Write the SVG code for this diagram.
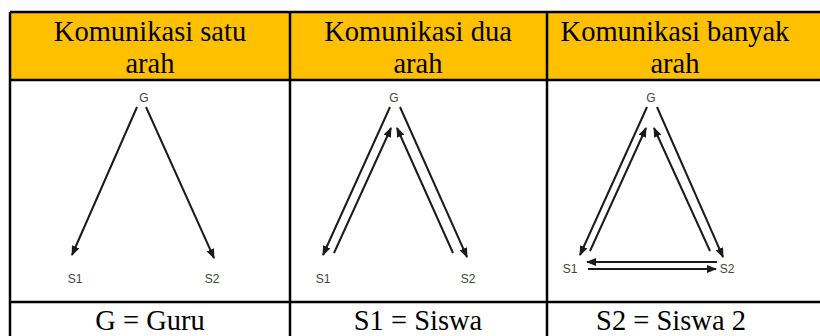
<svg xmlns="http://www.w3.org/2000/svg" width="820" height="336" viewBox="0 0 820 336">
<style>
.hd{font-family:"Liberation Serif","Times New Roman",Times,serif;font-size:28.5px;fill:#000;text-anchor:middle}
.lb{font-family:"Liberation Sans",Arial,sans-serif;font-size:12px;fill:#444;text-anchor:middle}
.ln{stroke:#1a1a1a;stroke-width:2;fill:none;marker-end:url(#ah)}
.grid{stroke:#000;stroke-width:2.5;fill:none}
</style>
<defs>
<marker id="ah" markerUnits="userSpaceOnUse" markerWidth="10" markerHeight="8" refX="9" refY="4" orient="auto">
<path d="M0,0 L10,4 L0,8 Z" fill="#1a1a1a"/>
</marker>
</defs>
<rect x="0" y="0" width="820" height="336" fill="#fff"/>
<g id="table">
<rect x="10" y="12" width="812" height="68" fill="#FFC000"/>
<path class="grid" d="M10,12 H822 M10,80 H822 M10,302 H822 M10,12 V336 M290,12 V336 M547,12 V336"/>
</g>
<g id="header1"><text class="hd" x="150" y="41">Komunikasi satu</text><text class="hd" x="150" y="73">arah</text></g>
<g id="header2"><text class="hd" x="418" y="41">Komunikasi dua</text><text class="hd" x="418" y="73">arah</text></g>
<g id="header3"><text class="hd" x="675" y="41">Komunikasi banyak</text><text class="hd" x="675" y="73">arah</text></g>
<g id="nodes1">
<text class="lb" x="144" y="102">G</text>
<text class="lb" x="75" y="283">S1</text>
<text class="lb" x="212" y="283">S2</text>
</g>
<g id="nodes2">
<text class="lb" x="394" y="102">G</text>
<text class="lb" x="323" y="283">S1</text>
<text class="lb" x="468" y="283">S2</text>
</g>
<g id="nodes3">
<text class="lb" x="651" y="102">G</text>
<text class="lb" x="570" y="273">S1</text>
<text class="lb" x="727" y="273">S2</text>
</g>
<g id="connectors">
<line class="ln" x1="137" y1="107" x2="72" y2="255"/>
<line class="ln" x1="146" y1="107" x2="214" y2="258"/>
<line class="ln" x1="390" y1="107" x2="323" y2="255"/>
<line class="ln" x1="334" y1="253" x2="391" y2="128"/>
<line class="ln" x1="453" y1="253" x2="397" y2="128"/>
<line class="ln" x1="400" y1="107" x2="467" y2="257"/>
<line class="ln" x1="647" y1="107" x2="580" y2="255"/>
<line class="ln" x1="590" y1="251" x2="646" y2="128"/>
<line class="ln" x1="710" y1="251" x2="654" y2="128"/>
<line class="ln" x1="657" y1="107" x2="723" y2="257"/>
<line class="ln" x1="717" y1="262" x2="587" y2="262"/>
<line class="ln" x1="588" y1="269" x2="716" y2="269"/>
</g>
<g id="legend">
<text class="hd" x="150" y="330">G = Guru</text>
<text class="hd" x="418" y="330">S1 = Siswa</text>
<text class="hd" x="671" y="330">S2 = Siswa 2</text>
</g>
</svg>
